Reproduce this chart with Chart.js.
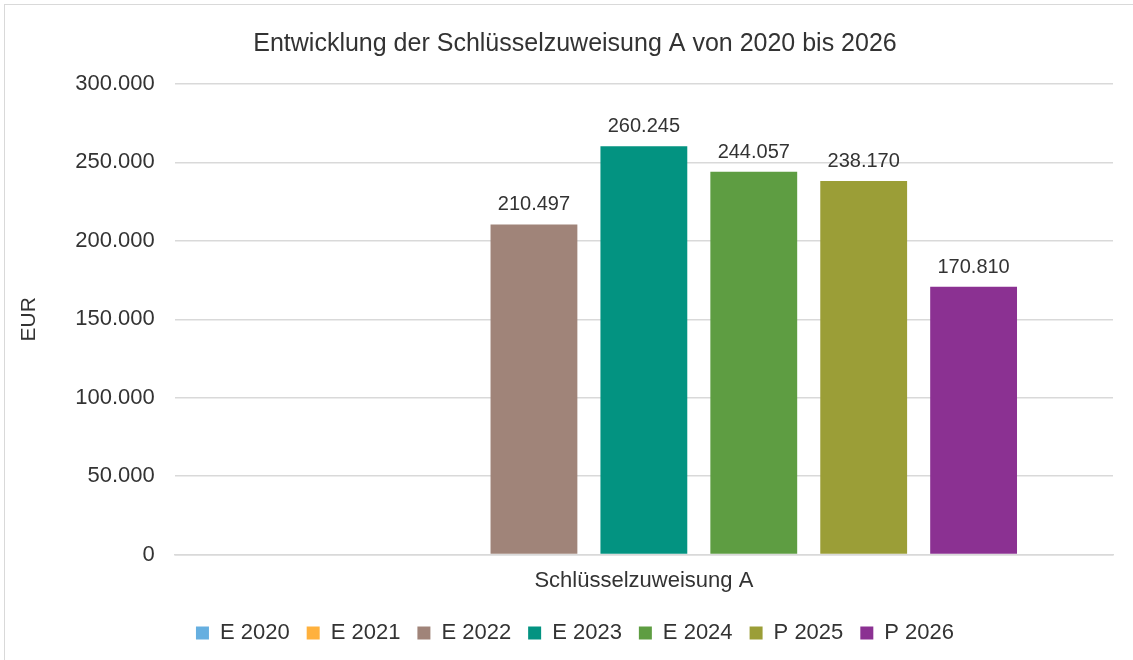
<!DOCTYPE html>
<html>
<head>
<meta charset="utf-8">
<script src="https://cdn.jsdelivr.net/npm/chart.js@4"></script>
<style>
  html, body { margin: 0; padding: 0; background: #fff; }
  #wrap { position: relative; width: 1133px; height: 660px; }
  #frame { position: absolute; left: 4px; top: 4px; right: -2px; bottom: -2px;
           border: 1px solid #d9d9d9; pointer-events: none; }
  canvas { position: absolute; left: 0; top: 0; }
</style>
</head>
<body>
<div id="wrap">
  <div id="frame"></div>
  <canvas id="chart" width="1133" height="660"></canvas>
</div>
<script>
// data
const categories = ["Schlüsselzuweisung A"];
const seriesNames = ["E 2020", "E 2021", "E 2022", "E 2023", "E 2024", "P 2025", "P 2026"];
const seriesValues = [null, null, 210497, 260245, 244057, 238170, 170810];
const seriesColors = ["#66afe0", "#ffb13d", "#a08479", "#039381", "#5e9d42", "#9b9e37", "#8b3192"];
const yTicks = [0, 50000, 100000, 150000, 200000, 250000, 300000];

const FONT = "'Liberation Sans', Arial, sans-serif";
const TEXT = "#333333";

function fmt(v) {
  return String(Math.round(v)).replace(/\B(?=(\d{3})+(?!\d))/g, ".");
}

// value labels above bars
const barLabels = {
  id: "barLabels",
  afterDatasetsDraw(chart) {
    const ctx = chart.ctx;
    ctx.save();
    ctx.font = "20px " + FONT;
    ctx.fillStyle = TEXT;
    ctx.textAlign = "center";
    ctx.textBaseline = "alphabetic";
    chart.data.datasets.forEach((ds, i) => {
      const meta = chart.getDatasetMeta(i);
      meta.data.forEach((bar, j) => {
        const v = ds.data[j];
        if (v == null) return;
        ctx.fillText(fmt(v), bar.x, bar.y - 14);
      });
    });
    ctx.restore();
  },
};

const datasets = seriesNames.map((name, i) => ({
  label: name,
  data: [seriesValues[i]],
  backgroundColor: seriesColors[i],
  borderWidth: 0,
  barPercentage: 0.79,
  categoryPercentage: 0.82,
}));

new Chart(document.getElementById("chart").getContext("2d"), {
  type: "bar",
  data: { labels: categories, datasets: datasets },
  plugins: [barLabels],
  options: {
    responsive: false,
    animation: false,
    layout: { padding: { left: 37, right: 20, top: 29, bottom: 6 } },
    plugins: {
      title: {
        display: true,
        text: "Entwicklung der Schlüsselzuweisung A von 2020 bis 2026",
        color: TEXT,
        font: { family: FONT, size: 25, weight: "normal" },
        padding: { top: 0, bottom: 25 },
      },
      legend: {
        display: true,
        position: "bottom",
        labels: {
          color: TEXT,
          font: { family: FONT, size: 22 },
          boxWidth: 13,
          boxHeight: 13,
          padding: 17,
        },
      },
      tooltip: { enabled: false },
    },
    scales: {
      x: {
        grid: { display: false },
        border: { display: true, color: "#d9d9d9", width: 1.5 },
        ticks: { color: TEXT, font: { family: FONT, size: 22 }, padding: 5 },
        afterFit(scale) {
          scale.height += 6;
        },
      },
      y: {
        min: 0,
        max: 300000,
        afterBuildTicks(scale) {
          scale.ticks = yTicks.map((v) => ({ value: v }));
        },
        grid: { color: "#d9d9d9", lineWidth: 1.5, drawTicks: false },
        border: { display: false },
        ticks: {
          color: TEXT,
          font: { family: FONT, size: 22 },
          padding: 20,
          callback: (v) => fmt(v),
        },
        title: {
          display: true,
          text: "EUR",
          color: TEXT,
          font: { family: FONT, size: 21 },
          padding: { top: -20, bottom: 13 },
        },
      },
    },
  },
});
</script>
</body>
</html>
